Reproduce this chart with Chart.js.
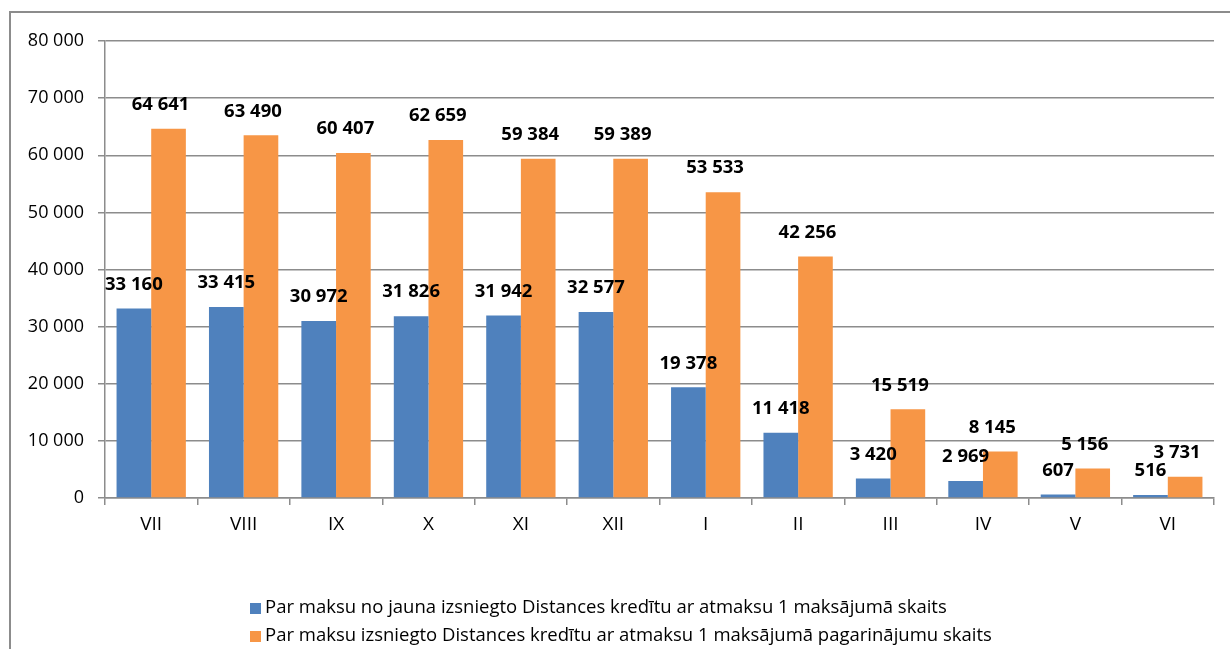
<!DOCTYPE html>
<html>
<head>
<meta charset="utf-8">
<script src="https://cdn.jsdelivr.net/npm/chart.js@4.4.1/dist/chart.umd.min.js"></script>
<style>
  html, body { margin: 0; padding: 0; background: #fff; overflow: hidden; }
  #frame { position: absolute; left: 9px; top: 11px; width: 1260px; height: 700px; border: 2px solid #8c8c8c; box-sizing: border-box; }
  #wrap { position: absolute; left: 0; top: 0; width: 1230px; height: 649px; }
</style>
</head>
<body>
<div id="frame"></div>
<div id="wrap"><canvas id="chart"></canvas></div>
<script>
var months = ['VII', 'VIII', 'IX', 'X', 'XI', 'XII', 'I', 'II', 'III', 'IV', 'V', 'VI'];
var newCredits = [33160, 33415, 30972, 31826, 31942, 32577, 19378, 11418, 3420, 2969, 607, 516];
var extensions = [64641, 63490, 60407, 62659, 59384, 59389, 53533, 42256, 15519, 8145, 5156, 3731];
var seriesNames = [
	'Par maksu no jauna izsniegto Distances kredītu ar atmaksu 1 maksājumā skaits',
	'Par maksu izsniegto Distances kredītu ar atmaksu 1 maksājumā pagarinājumu skaits'
];
var yTicks = [0, 10000, 20000, 30000, 40000, 50000, 60000, 70000, 80000];

var fontName = "'Open Sans', sans-serif";

function fmt(v){
	return String(v).replace(/\B(?=(\d{3})+(?!\d))/g, ' ');
}

// value labels above the bars
var valueLabels = {
	id: 'valueLabels',
	afterDatasetsDraw: function(chart){
		var ctx = chart.ctx;
		ctx.save();
		ctx.font = 'bold 18.5px ' + fontName;
		ctx.fillStyle = '#000';
		ctx.textAlign = 'center';
		ctx.textBaseline = 'middle';
		chart.data.datasets.forEach(function(ds, i){
			var meta = chart.getDatasetMeta(i);
			meta.data.forEach(function(bar, j){
				var shift = i == 1 ? -8 : 0;
				ctx.fillText(fmt(ds.data[j]), bar.x + shift, bar.y - 24);
			});
		});
		ctx.restore();
	}
};

// legend drawn as two left aligned rows
var rowLegend = {
	id: 'rowLegend',
	afterDraw: function(chart){
		var ctx = chart.ctx;
		ctx.save();
		ctx.font = '18.5px ' + fontName;
		ctx.textBaseline = 'middle';
		ctx.textAlign = 'left';
		chart.data.datasets.forEach(function(ds, i){
			var y = 608 + i * 28;
			ctx.fillStyle = ds.backgroundColor;
			ctx.fillRect(250, y - 5, 11, 11);
			ctx.fillStyle = '#000';
			ctx.fillText(ds.label, 265, y);
		});
		ctx.restore();
	}
};

var ctx = document.getElementById('chart').getContext('2d');
new Chart(ctx, {
	type: 'bar',
	data: {
		labels: months,
		datasets: [{
			label: seriesNames[0],
			backgroundColor: '#4F81BD',
			data: newCredits
		}, {
			label: seriesNames[1],
			backgroundColor: '#F79646',
			data: extensions
		}]
	},
	plugins: [valueLabels, rowLegend],
	options: {
		responsive: true,
		maintainAspectRatio: false,
		animation: false,
		layout: { padding: { top: 41, right: 16, left: 0, bottom: 0 } },
		datasets: { bar: { categoryPercentage: 0.75, barPercentage: 1.0 } },
		plugins: {
			legend: { display: false },
			tooltip: { enabled: false }
		},
		scales: {
			x: {
				afterFit: function(s){ s.height = 151; },
				grid: { offset: true, drawOnChartArea: false, drawTicks: true, tickLength: 7, color: '#8c8c8c', lineWidth: 1.5 },
				border: { color: '#8c8c8c', width: 1.5 },
				ticks: { color: '#000', font: { family: fontName, size: 19 }, padding: 8 }
			},
			y: {
				min: 0,
				max: 80000,
				afterFit: function(s){ s.width = 105; },
				afterBuildTicks: function(s){ s.ticks = yTicks.map(function(v){ return { value: v }; }); },
				grid: { color: '#8c8c8c', lineWidth: 1.5, tickLength: 7 },
				border: { color: '#8c8c8c', width: 1.5 },
				ticks: { color: '#000', font: { family: fontName, size: 18 }, padding: 14,
					callback: function(v){ return fmt(v); } }
			}
		}
	}
});
</script>
</body>
</html>
